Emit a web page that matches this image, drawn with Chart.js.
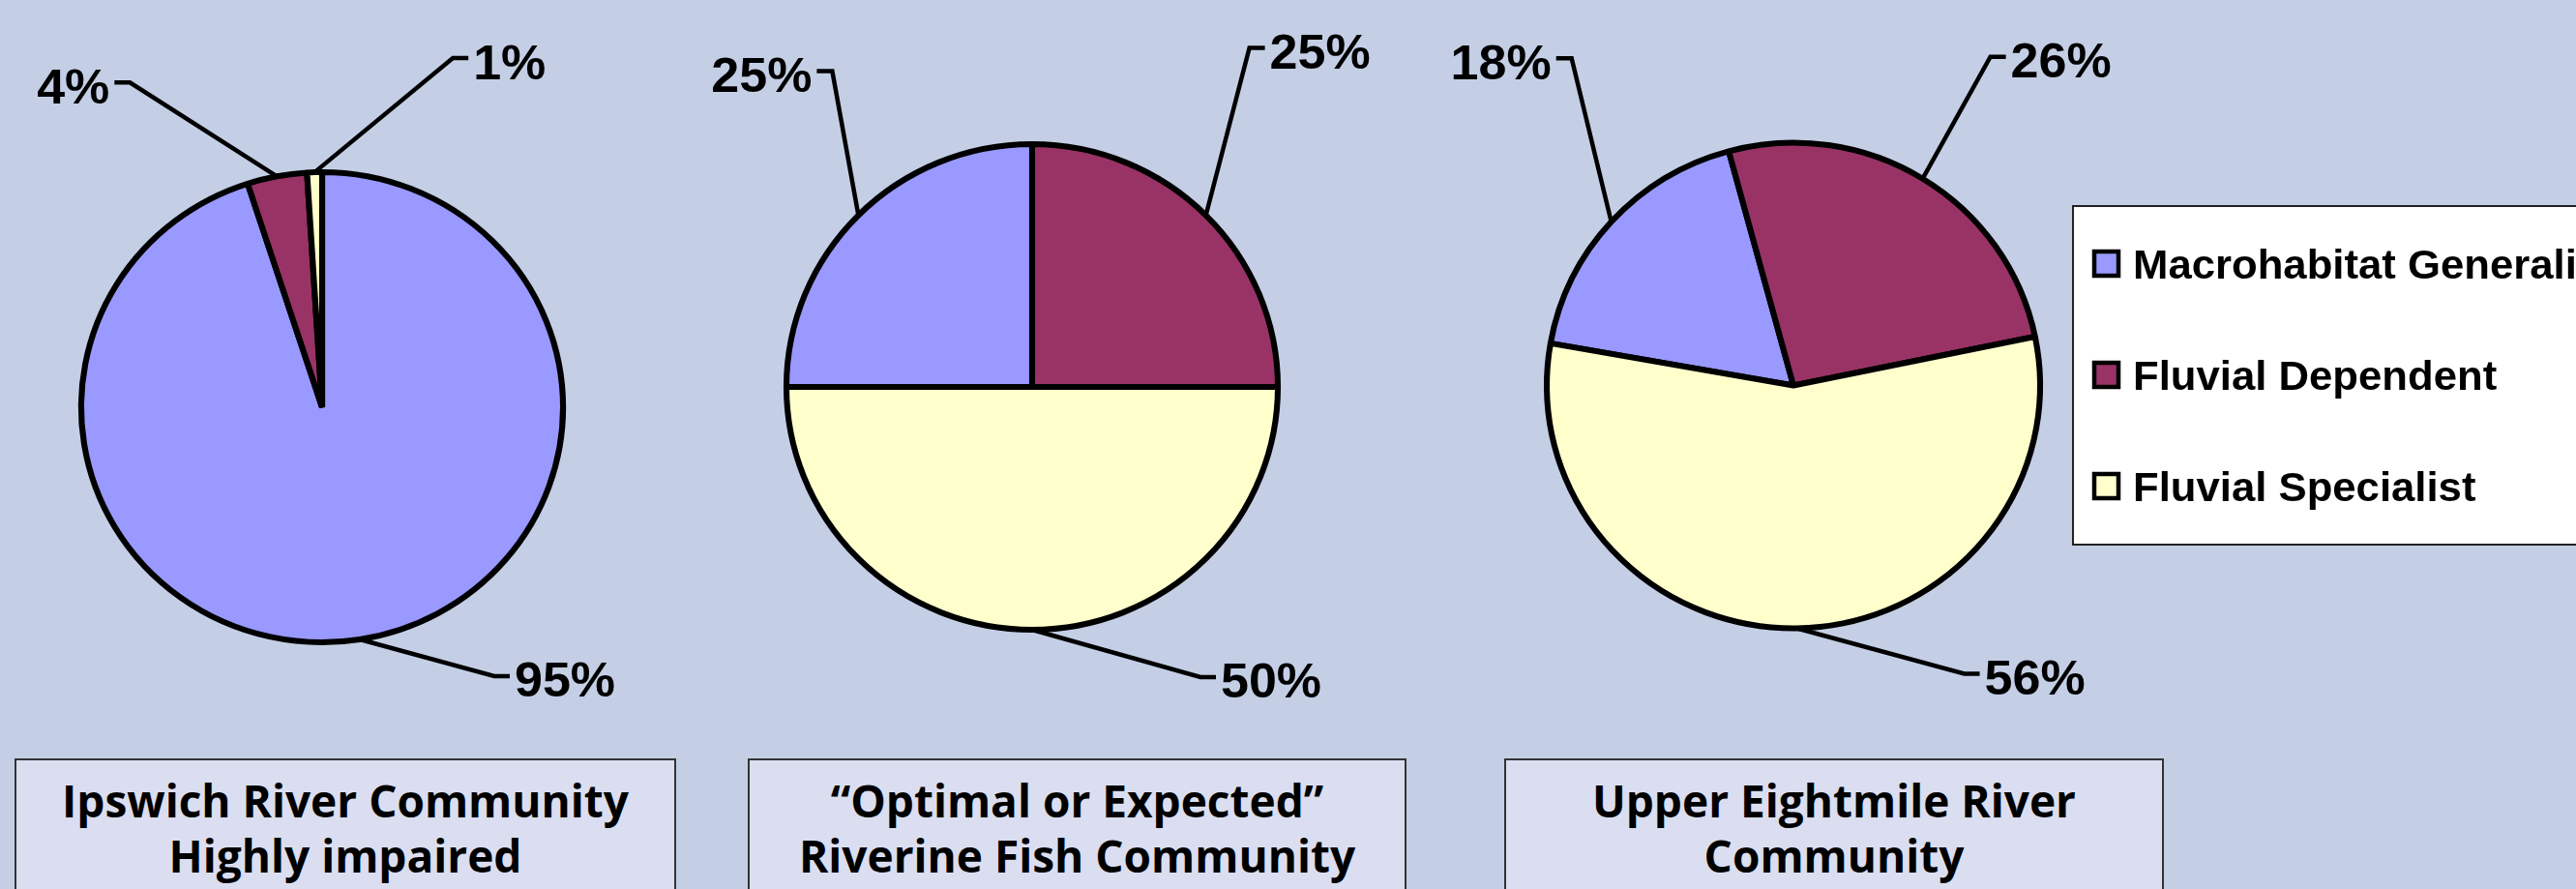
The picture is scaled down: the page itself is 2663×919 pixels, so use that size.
<!DOCTYPE html>
<html lang="en">
<head>
<meta charset="UTF-8">
<title>Riverine Fish Community Composition</title>
<style>
    html, body {
        margin: 0;
        padding: 0;
        width: 2663px;
        height: 919px;
        overflow: hidden;
        background-color: #c4cfe6;
    }
    canvas.pie {
        position: absolute;
        left: 0;
        top: 0;
    }
    .caption {
        position: absolute;
        top: 784px;
        height: 160px;
        box-sizing: border-box;
        padding-top: 13px;
        background-color: #dadef0;
        border: 2px solid #333;
        font-family: 'Open Sans', 'Noto Sans', sans-serif;
        font-weight: 700;
        font-size: 46px;
        line-height: 57px;
        text-align: center;
        color: #000;
    }
</style>
</head>
<body>
<canvas id="pie1" class="pie" width="2663" height="919"></canvas>
<canvas id="pie2" class="pie" width="2663" height="919"></canvas>
<canvas id="pie3" class="pie" width="2663" height="919"></canvas>
<div class="caption" id="cap1" style="left:15px; width:684px;"></div>
<div class="caption" id="cap2" style="left:773px; width:681px;"></div>
<div class="caption" id="cap3" style="left:1555px; width:682px;"></div>

<script src="https://cdn.jsdelivr.net/npm/chart.js@4.4.0/dist/chart.umd.min.js"></script>
<script>
    // Guild categories and percentage shares for each community
    const categories = ['Macrohabitat Generalist', 'Fluvial Dependent', 'Fluvial Specialist'];
    const ipswichShares = [95, 4, 1];
    const optimalShares = [25, 25, 50];
    const eightmileShares = [18, 26, 56];

    const captions = [
        ['Ipswich River Community', 'Highly impaired'],
        ['\u201COptimal or Expected\u201D', 'Riverine Fish Community'],
        ['Upper Eightmile River', 'Community']
    ];

    const sliceColors = ['#9999ff', '#993366', '#ffffcc'];
    const W = 2663, H = 919;
    const TEXT_STRETCH = 1.04;
    const LABEL_FONT = 50;

    // Draw text slightly widened horizontally
    function drawStretched(ctx, text, x, y, align) {
        ctx.save();
        ctx.translate(x, y);
        ctx.scale(TEXT_STRETCH, 1);
        ctx.textAlign = align;
        ctx.fillText(text, 0, 0);
        ctx.restore();
    }

    // Squashes the pie into a slight ellipse and adds leader-line percentage labels
    const ellipsePie = {
        id: 'ellipsePie',
        beforeDatasetsDraw(chart, args, opts) {
            const arc = chart.getDatasetMeta(0).data[0];
            const ctx = chart.ctx;
            ctx.save();
            ctx.translate(arc.x, arc.y);
            ctx.scale(opts.stretchX, 1);
            ctx.translate(-arc.x, -arc.y);
        },
        afterDatasetsDraw(chart, args, opts) {
            const ctx = chart.ctx;
            ctx.restore();
            const values = chart.data.datasets[0].data;
            ctx.save();
            ctx.strokeStyle = '#000';
            ctx.fillStyle = '#000';
            ctx.lineWidth = 4.5;
            ctx.lineJoin = 'miter';
            ctx.font = 'bold ' + LABEL_FONT + 'px "Liberation Sans", Arial, sans-serif';
            ctx.textBaseline = 'alphabetic';
            chart.getDatasetMeta(0).data.forEach((arc, i) => {
                const mid = (arc.startAngle + arc.endAngle) / 2;
                const ax = arc.x + Math.cos(mid) * arc.outerRadius * opts.stretchX;
                const ay = arc.y + Math.sin(mid) * arc.outerRadius;
                const [dx, dy] = opts.offsets[i];
                const ex = ax + dx, ey = ay + dy;
                const dir = dx >= 0 ? 1 : -1;
                const tx = ex + dir * 16;
                ctx.beginPath();
                ctx.moveTo(ax, ay);
                ctx.lineTo(ex, ey);
                ctx.lineTo(tx, ey);
                ctx.stroke();
                const baseline = ey + 3.5 + 0.358 * LABEL_FONT;
                drawStretched(ctx, values[i] + '%', tx + dir * 5, baseline, dir > 0 ? 'left' : 'right');
            });
            ctx.restore();
        }
    };

    // Boxed legend at the right edge of the slide
    const boxLegend = {
        id: 'boxLegend',
        afterDraw(chart, args, opts) {
            const ctx = chart.ctx;
            const ds = chart.data.datasets[0];
            ctx.save();
            ctx.fillStyle = '#fff';
            ctx.fillRect(opts.left, opts.top, opts.width, opts.height);
            ctx.strokeStyle = '#222';
            ctx.lineWidth = 2;
            ctx.strokeRect(opts.left, opts.top, opts.width, opts.height);
            ctx.font = 'bold ' + opts.fontSize + 'px "Liberation Sans", Arial, sans-serif';
            ctx.textBaseline = 'alphabetic';
            chart.data.labels.forEach((label, i) => {
                const cy = opts.firstRow + i * opts.rowGap;
                const s = opts.boxSize;
                ctx.fillStyle = ds.backgroundColor[i];
                ctx.fillRect(opts.left + 22, cy - s / 2, s, s);
                ctx.lineWidth = 4.5;
                ctx.strokeStyle = '#000';
                ctx.strokeRect(opts.left + 22, cy - s / 2, s, s);
                ctx.fillStyle = '#000';
                drawStretched(ctx, label, opts.left + 62, cy + 0.358 * opts.fontSize, 'left');
            });
            ctx.restore();
        }
    };

    const pies = [
        { canvas: 'pie1', values: ipswichShares, cx: 333, cy: 421, r: 243, stretchX: 1.025, rotation: 0,
          offsets: [[139, 38], [-152, -97], [143, -118]] },
        { canvas: 'pie2', values: optimalShares, cx: 1067, cy: 400, r: 251, stretchX: 1.012, rotation: -90,
          offsets: [[-27, -149], [45, -173], [174, 49]] },
        { canvas: 'pie3', values: eightmileShares, cx: 1854, cy: 398.5, r: 251, stretchX: 1.016, rotation: -80,
          offsets: [[-41, -169], [70, -126], [173, 47]] }
    ];

    pies.forEach((p, idx) => {
        const plugins = [ellipsePie];
        if (idx === 2) plugins.push(boxLegend);
        new Chart(document.getElementById(p.canvas), {
            type: 'pie',
            data: {
                labels: categories,
                datasets: [{
                    data: p.values,
                    backgroundColor: sliceColors,
                    borderColor: '#000',
                    borderWidth: 6,
                    rotation: p.rotation,
                    radius: p.r
                }]
            },
            options: {
                responsive: false,
                animation: false,
                devicePixelRatio: 1,
                layout: {
                    padding: {
                        left: p.cx - p.r,
                        top: p.cy - p.r,
                        right: W - p.cx - p.r,
                        bottom: H - p.cy - p.r
                    }
                },
                plugins: {
                    legend: { display: false },
                    tooltip: { enabled: false },
                    ellipsePie: { stretchX: p.stretchX, offsets: p.offsets },
                    boxLegend: {
                        left: 2143, top: 213, width: 600, height: 350,
                        firstRow: 272.5, rowGap: 115, boxSize: 25, fontSize: 42
                    }
                }
            },
            plugins: plugins
        });
    });

    captions.forEach((lines, i) => {
        document.getElementById('cap' + (i + 1)).innerHTML = lines.join('<br>');
    });
</script>
</body>
</html>
